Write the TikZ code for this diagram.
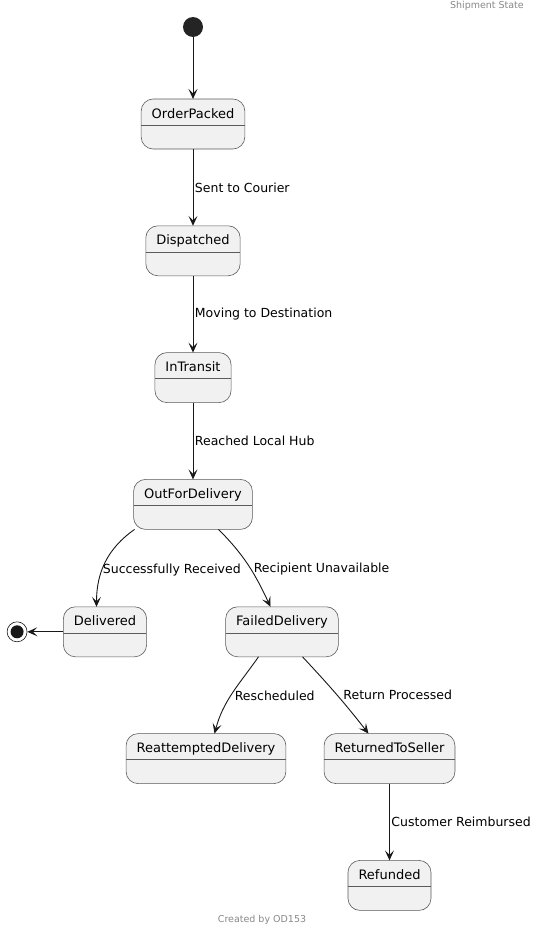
\documentclass[tikz,border=0pt]{standalone}
\usepackage{fontspec}
\setmainfont{DejaVu Sans}
\usepackage{xcolor}
\usetikzlibrary{positioning,arrows.meta}
\definecolor{state-fill}{HTML}{F1F1F1}
\definecolor{state-edge}{HTML}{5A5A5A}
\definecolor{state-line}{HTML}{181818}
\definecolor{note-gray}{HTML}{888888}

\begin{document}
\begin{tikzpicture}
[
state-a/.style={draw=state-edge, line width=0.6pt, fill=state-fill, rounded corners=12pt,
  inner xsep=10.5pt, inner ysep=0pt, outer sep=0pt, text height=19pt, text depth=31pt,
  font=\fontsize{13}{15}\selectfont,
  path picture={\draw[state-edge, line width=0.6pt]
    ([yshift=-26pt]path picture bounding box.north west) --
    ([yshift=-26pt]path picture bounding box.north east);}},
start-a/.style={circle, fill=state-line!95, minimum size=20pt, inner sep=0pt, outer sep=0pt},
end-a/.style={circle, draw=state-line, line width=0.6pt, fill=white, minimum size=20pt, inner sep=0pt,
  path picture={\fill[state-line] (path picture bounding box.center) circle (6.5pt);}},
text-a/.style={black, inner sep=0pt, font=\fontsize{12.5}{14}\selectfont},
note-a/.style={note-gray, inner sep=0pt, font=\fontsize{9.5}{11}\selectfont},
trans-a/.style={draw=state-line, line width=0.9pt, -{Stealth[length=10pt, width=9pt, inset=4.5pt]}}
]
\useasboundingbox (0pt,0pt) rectangle (537pt,-934pt);
\node (init)               [start-a] at (193pt,-27pt)                                 {};
\node (order-packed)       [state-a, below = 62pt of init                           ] {OrderPacked};
\node (dispatched)         [state-a, below = 76.8pt of order-packed                 ] {Dispatched};
\node (in-transit)         [state-a, below = 76.8pt of dispatched                   ] {InTransit};
\node (out-for-delivery)   [state-a, below = 76.8pt of in-transit                   ] {OutForDelivery};
\node (delivered)          [state-a, below = 77.4pt of out-for-delivery, xshift=-88pt] {Delivered};
\node (failed-delivery)    [state-a, below = 77.4pt of out-for-delivery, xshift=89pt ] {FailedDelivery};
\node (reattempted)        [state-a, below = 76.8pt of failed-delivery, xshift=-76pt ] {ReattemptedDelivery};
\node (returned)           [state-a, below = 76.8pt of failed-delivery, xshift=107.5pt] {ReturnedToSeller};
\node (refunded)           [state-a, below = 76.8pt of returned                      ] {Refunded};
\node (final)              [end-a,   left  = 36pt of delivered                       ] {};
% header and footer
\node (title)              [note-a, anchor=north east] at (524pt,-1pt)   {Shipment State};
\node (footer)             [note-a]                    at (262pt,-920pt) {Created by OD153};
% transitions
\draw [trans-a] (init) -- (order-packed);
\draw [trans-a] (order-packed) -- node [text-a, right=1.5pt] {Sent to Courier} (dispatched);
\draw [trans-a] (dispatched) -- node [text-a, right=1.5pt] {Moving to Destination} (in-transit);
\draw [trans-a] (in-transit) -- node [text-a, right=1.5pt] {Reached Local Hub} (out-for-delivery);
\draw [trans-a] ([xshift=1pt]out-for-delivery.south west) to [out=-145, in=90]
  node [text-a, anchor=west, pos=0.55, xshift=-1pt, yshift=-3pt] {Successfully Received}
  ([xshift=-8.5pt]delivered.north);
\draw [trans-a] ([xshift=25.5pt]out-for-delivery.south) to [out=-45, in=115]
  node [text-a, anchor=west, pos=0.5, xshift=5pt, yshift=-4pt] {Recipient Unavailable}
  ([xshift=-11.5pt]failed-delivery.north);
\draw [trans-a] ([xshift=-23.5pt]failed-delivery.south) to [out=-125, in=75]
  node [text-a, anchor=west, pos=0.5, xshift=2pt, yshift=-3pt] {Rescheduled}
  ([xshift=8.5pt]reattempted.north);
\draw [trans-a] ([xshift=20.5pt]failed-delivery.south) to [out=-47, in=128]
  node [text-a, anchor=west, pos=0.5, xshift=6.5pt] {Return Processed}
  ([xshift=-21pt]returned.north);
\draw [trans-a] (returned) -- node [text-a, right=1.5pt] {Customer Reimbursed} (refunded);
\draw [trans-a] (delivered) -- (final);
\end{tikzpicture}
\end{document}
